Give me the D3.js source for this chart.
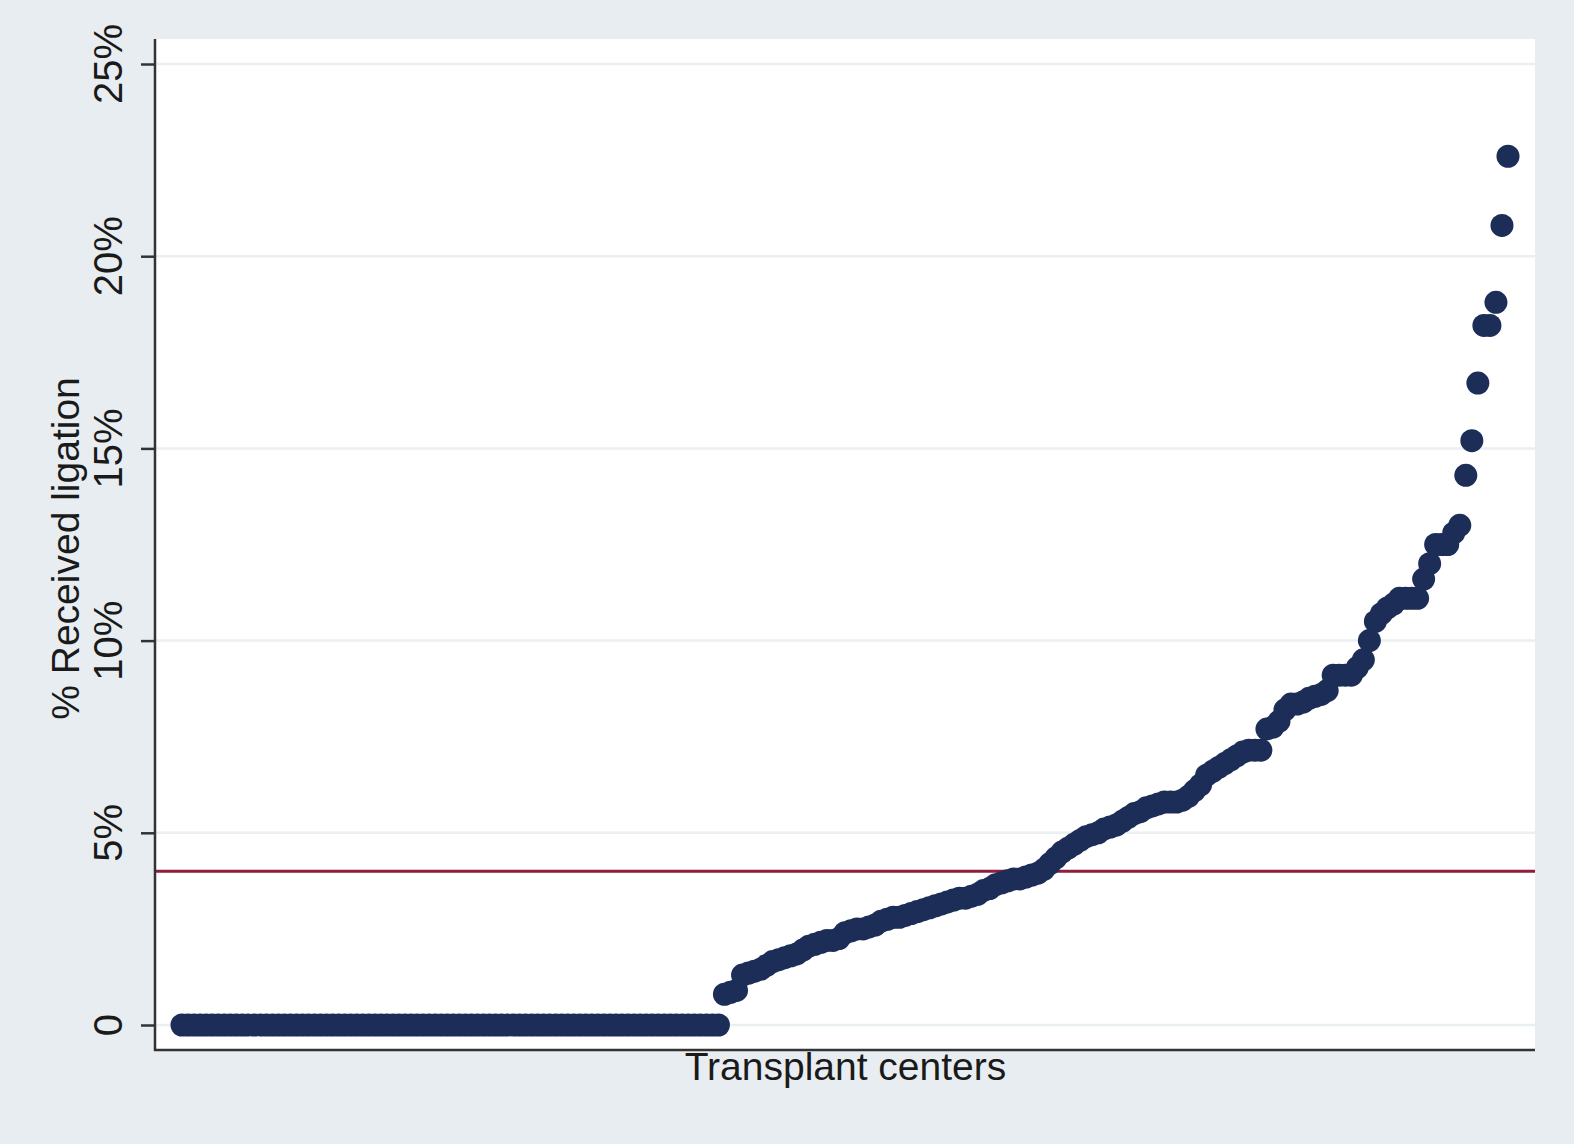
<!DOCTYPE html>
<html>
<head>
<meta charset="utf-8">
<script src="https://cdn.jsdelivr.net/npm/d3@7"></script>
<style>
  body { margin: 0; background: #e8edf1; }
  svg { display: block; font-family: "Liberation Sans", Arial, sans-serif; }
</style>
</head>
<body>
<script>
var width = 1574,
    height = 1144;

// centers with no ligation (sorted, left part of the chart)
var zeroCenters = [
  0,0,0,0,0,0,0,0,0,0, 0,0,0,0,0,0,0,0,0,0,
  0,0,0,0,0,0,0,0,0,0, 0,0,0,0,0,0,0,0,0,0,
  0,0,0,0,0,0,0,0,0,0, 0,0,0,0,0,0,0,0,0,0,
  0,0,0,0,0,0,0,0,0,0, 0,0,0,0,0,0,0,0,0,0,
  0,0,0,0,0,0,0,0,0,0
];

// % received ligation for the remaining centers, sorted
var ligationPct = [
  0.8, 0.85, 0.9, 1.3, 1.35, 1.4, 1.45, 1.55, 1.65, 1.7,
  1.75, 1.8, 1.85, 1.95, 2.05, 2.1, 2.15, 2.2, 2.2, 2.25,
  2.4, 2.45, 2.5, 2.5, 2.55, 2.6, 2.7, 2.75, 2.8, 2.8,
  2.85, 2.9, 2.95, 3.0, 3.05, 3.1, 3.15, 3.2, 3.25, 3.3,
  3.3, 3.35, 3.4, 3.5, 3.55, 3.65, 3.7, 3.75, 3.8, 3.8,
  3.85, 3.9, 3.95, 4.05, 4.2, 4.35, 4.5, 4.6, 4.7, 4.8,
  4.9, 4.95, 5.0, 5.1, 5.15, 5.2, 5.3, 5.4, 5.5, 5.55,
  5.65, 5.7, 5.75, 5.8, 5.8, 5.8, 5.85, 5.95, 6.1, 6.25,
  6.5, 6.6, 6.7, 6.8, 6.9, 7.0, 7.1, 7.15, 7.15, 7.15,
  7.7, 7.75, 7.9, 8.2, 8.35, 8.35, 8.4, 8.5, 8.55, 8.6,
  8.7, 9.1, 9.1, 9.1, 9.1, 9.3, 9.5, 10.0, 10.5, 10.7,
  10.85, 10.95, 11.1, 11.1, 11.1, 11.1, 11.6, 12.0, 12.5, 12.5,
  12.5, 12.8, 13.0, 14.3, 15.2, 16.7, 18.2, 18.2, 18.8, 20.8,
  22.6
];

var yTicks = [0, 5, 10, 15, 20, 25];
var yTickLabels = ["0", "5%", "10%", "15%", "20%", "25%"];
var refLine = 4;

var values = zeroCenters.concat(ligationPct);

var svg = d3.select("body").append("svg")
    .attr("width", width)
    .attr("height", height);

svg.append("rect")
    .attr("width", width)
    .attr("height", height)
    .attr("fill", "#e8edf1");

var plotLeft = 156, plotRight = 1535, plotTop = 39, plotBottom = 1050;

svg.append("rect")
    .attr("x", plotLeft)
    .attr("y", plotTop)
    .attr("width", plotRight - plotLeft)
    .attr("height", plotBottom - plotTop)
    .attr("fill", "#ffffff");

var x = d3.scaleLinear()
    .domain([0, values.length - 1])
    .range([182, 1508]);

var y = d3.scaleLinear()
    .domain([0, 25])
    .range([1025, 64]);

// gridlines
svg.selectAll(".grid")
  .data(yTicks)
  .enter().append("line")
    .attr("class", "grid")
    .attr("x1", plotLeft)
    .attr("x2", plotRight)
    .attr("y1", function(d) { return y(d); })
    .attr("y2", function(d) { return y(d); })
    .attr("stroke", "#eaeff2")
    .attr("stroke-width", 2.5);

// reference line
svg.append("line")
    .attr("x1", plotLeft)
    .attr("x2", plotRight)
    .attr("y1", y(refLine))
    .attr("y2", y(refLine))
    .attr("stroke", "#8f1d3b")
    .attr("stroke-width", 3);

svg.append("g")
  .selectAll("circle")
  .data(values)
  .enter().append("circle")
    .attr("cx", function(d, i) { return x(i); })
    .attr("cy", function(d) { return y(d); })
    .attr("r", 11.5)
    .attr("fill", "#1c2d58");

// y axis
var yAxis = svg.append("g")
    .attr("transform", "translate(" + plotLeft + ",0)")
    .call(d3.axisLeft(y).tickValues(yTicks).tickSize(15).tickFormat(""));
yAxis.select(".domain").remove();
yAxis.selectAll(".tick line").attr("stroke", "#333").attr("stroke-width", 2.5);

svg.append("line")
    .attr("x1", plotLeft - 1).attr("x2", plotLeft - 1)
    .attr("y1", plotTop).attr("y2", plotBottom + 1)
    .attr("stroke", "#333").attr("stroke-width", 2.5);

svg.append("line")
    .attr("x1", plotLeft - 2).attr("x2", plotRight)
    .attr("y1", plotBottom).attr("y2", plotBottom)
    .attr("stroke", "#333").attr("stroke-width", 2.5);

svg.selectAll(".ylab")
  .data(yTicks)
  .enter().append("text")
    .attr("class", "ylab")
    .attr("transform", function(d) { return "translate(122," + y(d) + ") rotate(-90)"; })
    .attr("text-anchor", "middle")
    .attr("font-size", 40)
    .attr("fill", "#1a1a1a")
    .text(function(d, i) { return yTickLabels[i]; });

svg.append("text")
    .attr("transform", "translate(79," + ((plotTop + plotBottom) / 2 + 4) + ") rotate(-90)")
    .attr("text-anchor", "middle")
    .attr("font-size", 39)
    .attr("fill", "#1a1a1a")
    .text("% Received ligation");

svg.append("text")
    .attr("x", (plotLeft + plotRight) / 2)
    .attr("y", 1080)
    .attr("text-anchor", "middle")
    .attr("font-size", 39)
    .attr("fill", "#1a1a1a")
    .text("Transplant centers");
</script>
</body>
</html>
